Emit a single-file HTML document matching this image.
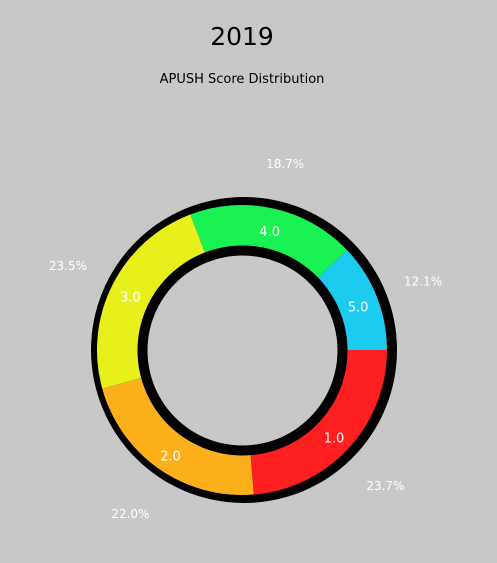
<!DOCTYPE html>
<html><head><meta charset="utf-8"><style>
body{margin:0;background:#c8c8c8;font-family:"Liberation Sans","DejaVu Sans",sans-serif;}
svg{display:block}
</style></head><body>
<svg width="497" height="563">
<rect width="497" height="563" fill="#c8c8c8"/>
<text x="242" y="45" font-size="25" text-anchor="middle" fill="#000" font-family="DejaVu Sans, sans-serif">2019</text>
<text x="242" y="83" font-size="13" text-anchor="middle" fill="#000" font-family="DejaVu Sans, sans-serif">APUSH Score Distribution</text>
<circle cx="244" cy="350" r="153" fill="#000"/>
<g id="slices"></g>
<circle cx="242.5" cy="350.5" r="105" fill="#000"/>
<circle cx="242.5" cy="350.5" r="95" fill="#c8c8c8"/>
<g id="labels"></g>
</svg>
<script>
const categories=["5.0","4.0","3.0","2.0","1.0"];
const values=[12.1,18.7,23.5,22.0,23.7];
const colors=["#1ccbef","#1af254","#e8f01c","#fcb11c","#fe2020"];
const cx=242,cy=350,R=145,r0=95,rl=125,rp=195;
const ns="http://www.w3.org/2000/svg";
const total=values.reduce((a,b)=>a+b,0);
const gS=document.getElementById('slices'),gL=document.getElementById('labels');
function pt(rad,a){return [cx+rad*Math.cos(a),cy-rad*Math.sin(a)];}
let a0=0;
values.forEach((v,i)=>{
  const a1=a0+v/total*2*Math.PI;
  const [x1,y1]=pt(R,a0),[x2,y2]=pt(R,a1),[x3,y3]=pt(r0,a1),[x4,y4]=pt(r0,a0);
  const large=(a1-a0)>Math.PI?1:0;
  const p=document.createElementNS(ns,'path');
  p.setAttribute('d',`M${x1},${y1}A${R},${R} 0 ${large} 0 ${x2},${y2}L${x3},${y3}A${r0},${r0} 0 ${large} 1 ${x4},${y4}Z`);
  p.setAttribute('fill',colors[i]);
  
  
  gS.appendChild(p);
  const am=(a0+a1)/2;
  const [lx,ly]=pt(rl,am);
  const t=document.createElementNS(ns,'text');
  t.setAttribute('x',lx);t.setAttribute('y',ly+8);
  t.setAttribute('text-anchor','middle');t.setAttribute('fill','#fff');t.setAttribute('font-size','13');
  t.setAttribute('font-family','DejaVu Sans, sans-serif');
  t.textContent=categories[i];
  
  
  gL.appendChild(t);
  const [px,py]=pt(rp,am);
  const q=document.createElementNS(ns,'text');
  q.setAttribute('x',px);q.setAttribute('y',py+8);
  q.setAttribute('text-anchor','middle');q.setAttribute('fill','#fff');q.setAttribute('font-size','12');
  q.setAttribute('font-family','DejaVu Sans, sans-serif');
  q.textContent=v.toFixed(1)+'%';
  
  
  gL.appendChild(q);
  a0=a1;
});
</script>
</body></html>
